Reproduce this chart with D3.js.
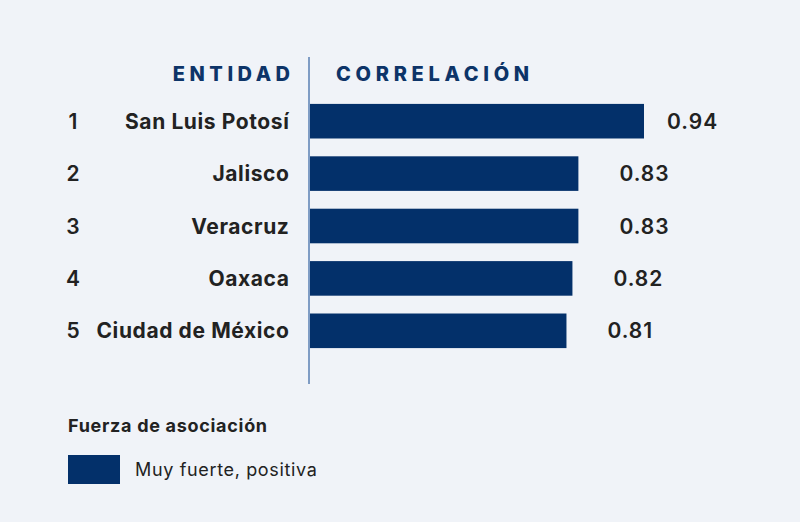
<!DOCTYPE html>
<html><head><meta charset="utf-8">
<script src="https://cdn.jsdelivr.net/npm/d3@7"></script>
<style>
html,body{margin:0;padding:0;background:#f0f3f8;}
svg{display:block;font-family:Inter,"Noto Sans",sans-serif;}
</style></head>
<body><svg id="c" width="800" height="522"></svg>
<script>
const ranks = ["1","2","3","4","5"];
const entities = ["San Luis Potosí","Jalisco","Veracruz","Oaxaca","Ciudad de México"];
const values = [0.94, 0.83, 0.83, 0.82, 0.81];
const valueLabels = ["0.94","0.83","0.83","0.82","0.81"];
const headers = ["ENTIDAD","CORRELACIÓN"];
const legendTitle = "Fuerza de asociación";
const legendItems = ["Muy fuerte, positiva"];

const svg = d3.select("#c");
const barColor = "#03306a";
const x0 = 310;
const x = d3.scaleLinear().domain([0.38, 0.94]).range([x0, 644]);
const y = d3.scaleBand().domain(d3.range(values.length)).range([95, 357]).paddingInner(0.34).paddingOuter(0.17);

svg.append("rect").attr("width",800).attr("height",522).attr("fill","#f0f3f8");

// headers
svg.append("text").attr("x",294.5).attr("y",80.5).attr("text-anchor","end")
  .attr("font-size",20).attr("font-weight",800).attr("letter-spacing",4.5)
  .attr("fill","#0d3468").text(headers[0]);
svg.append("text").attr("x",336).attr("y",80.5)
  .attr("font-size",20).attr("font-weight",800).attr("letter-spacing",4.7)
  .attr("fill","#0d3468").text(headers[1]);

// bars
svg.selectAll("rect.bar").data(values).join("rect").attr("class","bar")
  .attr("x",x0).attr("y",(d,i)=>y(i)).attr("height",y.bandwidth())
  .attr("width",d=>x(d)-x0).attr("fill",barColor);

// divider
svg.append("line").attr("x1",309).attr("x2",309).attr("y1",57).attr("y2",384)
  .attr("stroke","#7f9cc4").attr("stroke-width",2);

// ranks
svg.selectAll("text.rank").data(ranks).join("text").attr("class","rank")
  .attr("x",73).attr("y",(d,i)=>y(i)+y.bandwidth()/2).attr("dy","0.36em")
  .attr("text-anchor","middle").attr("font-size",21).attr("font-weight",600)
  .attr("fill","#222").text(d=>d);

// entities
svg.selectAll("text.ent").data(entities).join("text").attr("class","ent")
  .attr("x",289.5).attr("y",(d,i)=>y(i)+y.bandwidth()/2).attr("dy","0.36em")
  .attr("text-anchor","end").attr("font-size",21).attr("font-weight",700).attr("letter-spacing",0.6)
  .attr("fill","#222").text(d=>d);

// value labels
svg.selectAll("text.val").data(values).join("text").attr("class","val")
  .attr("x",d=>x(d)+(d>0.9?23:41)).attr("y",(d,i)=>y(i)+y.bandwidth()/2).attr("dy","0.36em")
  .attr("font-size",21).attr("font-weight",600).attr("letter-spacing",1)
  .attr("fill","#222").text((d,i)=>valueLabels[i]);

// legend
svg.append("text").attr("x",68).attr("y",432).attr("font-size",18).attr("font-weight",700).attr("letter-spacing",0.7)
  .attr("fill","#222").text(legendTitle);
const lg = svg.selectAll("g.lg").data(legendItems).join("g").attr("class","lg");
lg.append("rect").attr("x",68).attr("y",455).attr("width",52).attr("height",29).attr("fill",barColor);
lg.append("text").attr("x",135).attr("y",469.5).attr("dy","0.36em").attr("font-size",18).attr("letter-spacing",0.65)
  .attr("fill","#222").text(d=>d);
</script></body></html>
